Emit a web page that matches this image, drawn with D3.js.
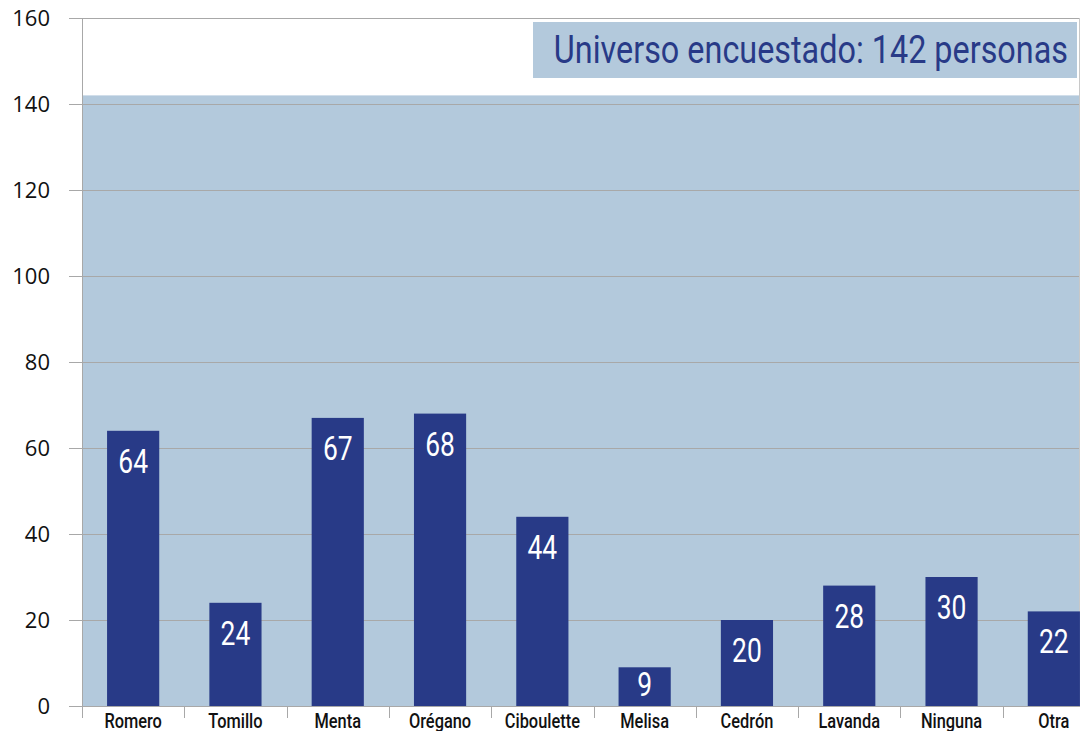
<!DOCTYPE html>
<html>
<head>
<meta charset="utf-8">
<script src="https://cdn.jsdelivr.net/npm/d3@7"></script>
<style>
  body { margin: 0; background: #fff; }
  svg { display: block; }
</style>
</head>
<body>
<div id="container"></div>
<script>
const categories = ["Romero", "Tomillo", "Menta", "Orégano", "Ciboulette", "Melisa", "Cedrón", "Lavanda", "Ninguna", "Otra"];
const values = [64, 24, 67, 68, 44, 9, 20, 28, 30, 22];
const yTicks = [0, 20, 40, 60, 80, 100, 120, 140, 160];
const universe = 142;
const titleText = "Universo encuestado: 142 personas";

const width = 1089, height = 731;
const plotLeft = 82, plotRight = 1105, plotTop = 18, plotBottom = 706, clipRight = 1080;
const barColor = "#283a87";
const bgColor = "#b3c9dc";
const gridColor = "#a8a8a8";

const svg = d3.select("#container").append("svg")
  .attr("width", width)
  .attr("height", height);

svg.append("clipPath").attr("id", "clip")
  .append("rect")
  .attr("x", 0).attr("y", 0)
  .attr("width", clipRight).attr("height", height);

const x = d3.scaleBand()
  .domain(categories)
  .range([plotLeft, plotRight])
  .paddingInner(0.49)
  .paddingOuter(0.245);

const y = d3.scaleLinear()
  .domain([0, 160])
  .range([plotBottom, plotTop]);

const g = svg.append("g").attr("clip-path", "url(#clip)");

// survey universe background
g.append("rect")
  .attr("x", plotLeft)
  .attr("y", y(universe))
  .attr("width", plotRight - plotLeft)
  .attr("height", y(0) - y(universe))
  .attr("fill", bgColor);

// gridlines
g.append("g")
  .selectAll("line")
  .data(yTicks)
  .join("line")
  .attr("x1", plotLeft - 13)
  .attr("x2", plotRight)
  .attr("y1", d => Math.round(y(d)) + 0.5)
  .attr("y2", d => Math.round(y(d)) + 0.5)
  .attr("stroke", gridColor)
  .attr("stroke-width", 1);

// left axis line and right border
g.append("line")
  .attr("x1", plotLeft + 0.5).attr("x2", plotLeft + 0.5)
  .attr("y1", plotTop).attr("y2", plotBottom + 12)
  .attr("stroke", gridColor);
g.append("line")
  .attr("x1", clipRight - 0.5).attr("x2", clipRight - 0.5)
  .attr("y1", plotTop).attr("y2", plotBottom)
  .attr("stroke", "#c8c8c8");

// category separators
g.append("g")
  .selectAll("line")
  .data(categories.slice(1))
  .join("line")
  .attr("x1", d => Math.round(x(d) - x.step() * x.paddingInner() / 2) + 0.5)
  .attr("x2", d => Math.round(x(d) - x.step() * x.paddingInner() / 2) + 0.5)
  .attr("y1", plotBottom)
  .attr("y2", plotBottom + 12)
  .attr("stroke", gridColor);

// bars
g.append("g")
  .selectAll("rect")
  .data(values)
  .join("rect")
  .attr("x", (d, i) => x(categories[i]))
  .attr("y", d => y(d))
  .attr("width", x.bandwidth())
  .attr("height", d => y(0) - y(d))
  .attr("fill", barColor);

// value labels, near the top of each bar (centred in short bars)
const labelCenter = d => y(d) + Math.min(30, (y(0) - y(d)) / 2 - 3);
g.append("g")
  .selectAll("text")
  .data(values)
  .join("text")
  .attr("transform", (d, i) => `translate(${x(categories[i]) + x.bandwidth() / 2},${labelCenter(d) + 12}) scale(0.8,1)`)
  .attr("text-anchor", "middle")
  .attr("font-family", "Roboto, sans-serif")
  .attr("font-size", 33)
  .attr("fill", "#fff")
  .text(d => d);

// category labels
g.append("g")
  .selectAll("text")
  .data(categories)
  .join("text")
  .attr("transform", d => `translate(${x(d) + x.bandwidth() / 2},728) scale(0.82,1)`)
  .attr("text-anchor", "middle")
  .attr("font-family", "Roboto, sans-serif")
  .attr("font-weight", 500)
  .attr("font-size", 20)
  .attr("fill", "#111")
  .text(d => d);

// y tick labels
svg.append("g")
  .selectAll("text")
  .data(yTicks)
  .join("text")
  .attr("x", 50)
  .attr("y", d => y(d) + 8)
  .attr("text-anchor", "end")
  .attr("font-family", "'Open Sans', sans-serif")
  .attr("font-size", 22)
  .attr("fill", "#111")
  .text(d => d);

// title box
const tb = g.append("g");
tb.append("rect")
  .attr("x", 533).attr("y", 22)
  .attr("width", 544).attr("height", 56)
  .attr("fill", bgColor);
tb.append("text")
  .attr("transform", "translate(1068,63) scale(0.83,1)")
  .attr("text-anchor", "end")
  .attr("font-family", "Roboto, sans-serif")
  .attr("font-size", 39)
  .attr("fill", barColor)
  .text(titleText);
</script>
</body>
</html>
